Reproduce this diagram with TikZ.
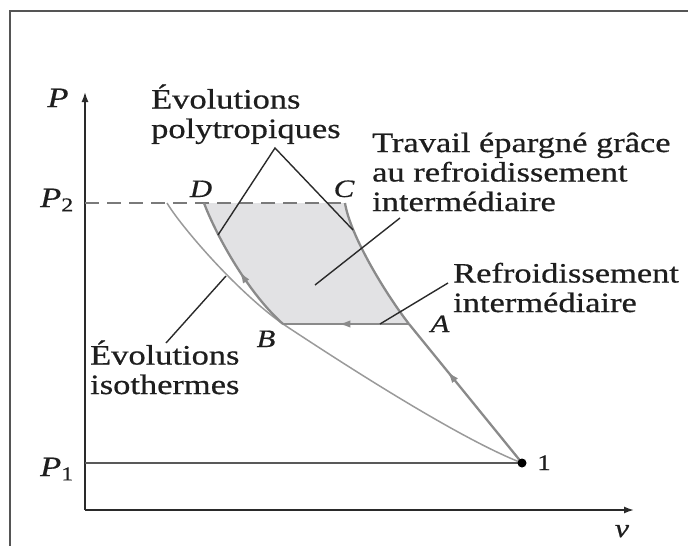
\documentclass[tikz,border=0pt]{standalone}
\usepackage{fontspec}
\setmainfont[FakeStretch=1.23,FakeBold=0.6]{Liberation Serif}
\usetikzlibrary{arrows.meta,decorations.markings}
\definecolor{procc}{HTML}{8A8A8A}
\definecolor{isoc}{HTML}{9A9A9A}
\definecolor{fillc}{HTML}{E2E2E4}
\definecolor{dashc}{HTML}{7A7A7A}
\definecolor{axisc}{HTML}{2A2A2A}
\definecolor{framec}{HTML}{555555}
\definecolor{txtc}{HTML}{1E1E1E}
\begin{document}
\begin{tikzpicture}[x=1pt,y=-1pt,
  framel/.style={draw=framec,line width=1.4pt},
  axisl/.style={draw=axisc,line width=1.6pt},
  procl/.style={draw=procc,line width=2.3pt},
  isol/.style={draw=isoc,line width=1.5pt},
  leader/.style={draw=axisc,line width=1.4pt},
  p2line/.style={draw=dashc,line width=2pt,dash pattern=on 14pt off 8pt},
  p1line/.style={draw=black!65,line width=2pt},
  midarrow/.style={postaction={decorate},decoration={markings,
     mark=at position #1 with {\arrow{Latex[length=12pt,width=7.5pt]}}}},
  txt/.style={text=txtc,inner sep=0pt,align=left,anchor=base west,
     font=\fontsize{28}{29.5}\selectfont},
  lbl/.style={text=txtc,inner sep=0pt,anchor=base,
     font=\fontsize{25}{28}\selectfont\itshape},
]
\useasboundingbox (0,0) rectangle (688,546);
% frame
\draw[framel] (10,546) -- (10,11) -- (688,11);
% coordinates
\coordinate (O) at (85,510);
\coordinate (ytop) at (85,92);
\coordinate (xend) at (634,510);
\coordinate (one) at (522,463);
\coordinate (p1) at (85,463);
\coordinate (p2) at (85,203);
\coordinate (D) at (204,203);
\coordinate (C) at (345,203);
\coordinate (B) at (283,324);
\coordinate (A) at (409,324);
\coordinate (Ti) at (167,203);
% shaded area
\fill[fillc] (D) .. controls (214,230) and (245,290) .. (B) -- (A)
   .. controls (385,293) and (350,235) .. (C) -- cycle;
% axes
\draw[axisl,-{Latex[length=10pt,width=7pt]}] (O) -- (ytop);
\draw[axisl,-{Latex[length=10pt,width=7pt]}] (O) -- (xend);
% P2 dashed line and P1 line
\draw[p2line] (p2) -- (C);
\draw[p1line] (p1) -- (one);
% isotherm
\draw[isol] (Ti) .. controls (180,225) and (235,290) .. (B)
   .. controls (330,355) and (455,437) .. (one);
% processes
\draw[procl,midarrow=0.66,color=procc] (one) -- (A);
\draw[procl] (A) .. controls (385,293) and (350,235) .. (C);
\draw[procl,midarrow=0.56,color=procc] (A) -- (B);
\draw[procl,midarrow=0.47,color=procc] (B) .. controls (245,290) and (214,230) .. (D);
\fill[black] (one) circle (4.5pt);
% leader points
\coordinate (polyL) at (218,235);
\coordinate (polyApex) at (275,148);
\coordinate (polyR) at (353,230);
\coordinate (travIn) at (315,285);
\coordinate (travEnd) at (400,218);
\coordinate (refIn) at (380,324);
\coordinate (refEnd) at (448,283);
\coordinate (isoIn) at (226,276);
\coordinate (isoEnd) at (166,343);
\draw[leader] (polyL) -- (polyApex) -- (polyR);
\draw[leader] (travIn) -- (travEnd);
\draw[leader] (refIn) -- (refEnd);
\draw[leader] (isoIn) -- (isoEnd);
% texts (base anchor = baseline of last line)
\node[txt] (tpoly) at (151,138) {Évolutions\\polytropiques};
\node[txt] (ttrav) at (372,211) {Travail épargné grâce\\au refroidissement\\intermédiaire};
\node[txt] (tref) at (453,312) {Refroidissement\\intermédiaire};
\node[txt] (tiso) at (90,394) {Évolutions\\isothermes};
% labels
\node[lbl,font=\fontsize{28}{30}\selectfont\itshape] (lP) at (58,107) {P};
\node[lbl,font=\fontsize{28}{30}\selectfont\itshape] (lP2) at (57,207) {P\textsubscript{\upshape 2}};
\node[lbl,font=\fontsize{28}{30}\selectfont\itshape] (lP1) at (57,476) {P\textsubscript{\upshape 1}};
\node[lbl] (lD) at (201,197) {D};
\node[lbl] (lC) at (344,197) {C};
\node[lbl] (lB) at (266,347) {B};
\node[lbl] (lA) at (440,332) {A};
\node[lbl,font=\fontsize{22}{24}\selectfont] (l1) at (544,470) {1};
\node[lbl,font=\fontsize{26}{28}\selectfont\itshape] (lv) at (622,537) {v};
\end{tikzpicture}
\end{document}
